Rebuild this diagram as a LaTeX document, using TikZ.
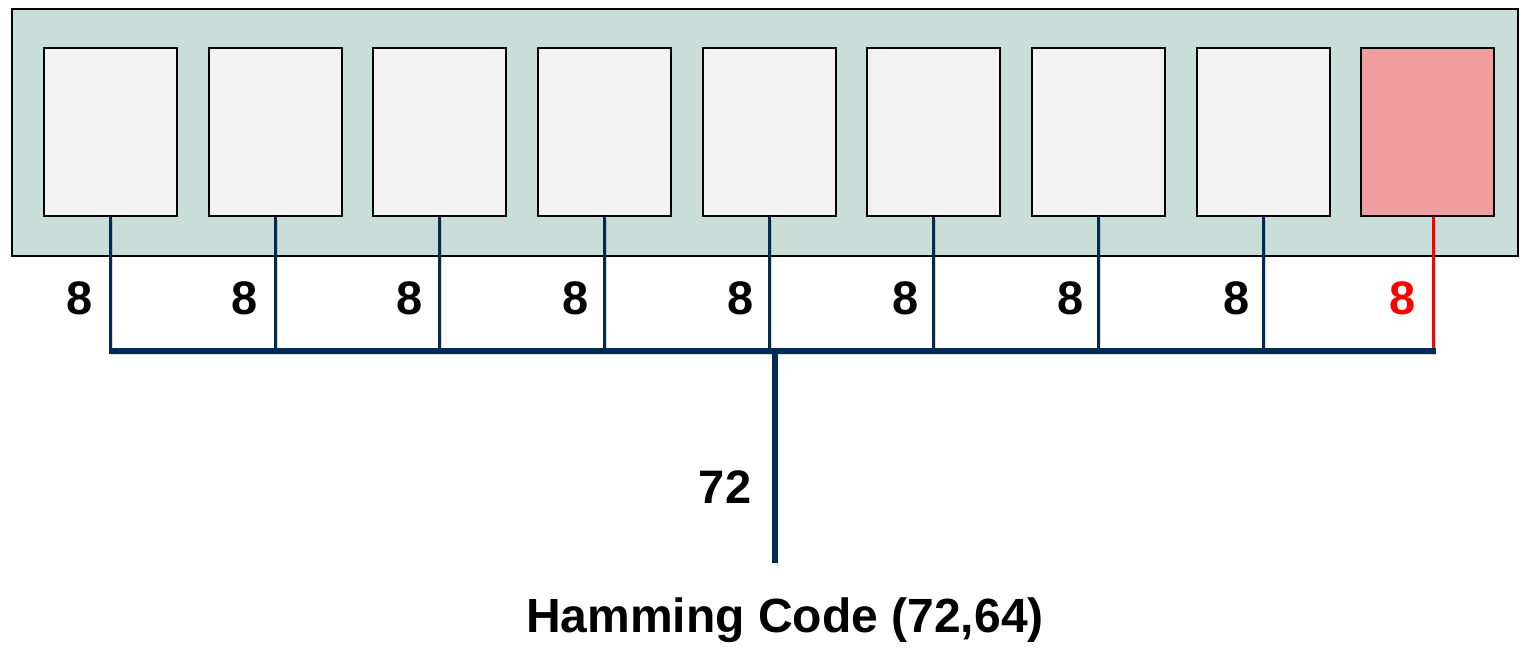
\documentclass[tikz,border=0pt]{standalone}
\usepackage{fontspec}
\setmainfont{Liberation Sans}
\definecolor{board}{HTML}{C9DDD9}
\definecolor{chipgray}{HTML}{F2F2F2}
\definecolor{chipred}{HTML}{F09E9F}
\definecolor{navy}{HTML}{002B55}
\definecolor{wirered}{HTML}{FF0000}
\begin{document}
\begin{tikzpicture}[x=1pt,y=-1pt,
  boardbox/.style={draw=black, line width=1.5pt, fill=board, minimum width=1506pt, minimum height=247pt, inner sep=0pt, anchor=north west},
  chip/.style={draw=black, line width=1.5pt, fill=chipgray, minimum width=133pt, minimum height=168pt, inner sep=0pt, anchor=north west},
  shade/.style={preaction={draw=black, opacity=0.15, transform canvas={xshift=2pt,yshift=-3pt}}},
  wire/.style={draw=navy, line width=3.5pt, shade},
  redwire/.style={draw=wirered, line width=3.5pt, shade},
  bus/.style={draw=navy, line width=5.5pt, shade},
  lbl/.style={font=\bfseries\fontsize{47}{52}\selectfont, inner sep=0pt},
]
\useasboundingbox (0,0) rectangle (1520,649);
\node[boardbox] (brd) at (11,8) {};
\foreach \i/\x in {1/43,2/208,3/372,4/537,5/702,6/866,7/1031,8/1196}
  \node[chip] (c\i) at (\x,47) {};
\node[chip, fill=chipred] (c9) at (1360,47) {};
\coordinate (busL) at (109,351);
\coordinate (busR) at (1436,351);
\coordinate (trunkTop) at (775,351);
\coordinate (trunkEnd) at (775,563);
\foreach \i in {1,...,8}
  \draw[wire] (c\i.south) -- (c\i.south |- busL);
\draw[redwire] ([xshift=6pt]c9.south) -- ([xshift=6pt]c9.south |- busL);
\draw[bus] (busL) -- (busR);
\draw[bus, line width=6pt] (trunkTop) -- (trunkEnd);
\foreach \i/\x in {1/80,2/245,3/410,4/576,5/741,6/906,7/1071,8/1237}
  \node[lbl] (n\i) at (\x,298) {8};
\node[lbl, text=wirered] (n9) at (1403,298) {8};
\node[lbl] (n72) at (725,487) {72};
\node[lbl, font=\bfseries\fontsize{48}{53}\selectfont] (title) at (785,620) {Hamming Code (72,64)};
\end{tikzpicture}
\end{document}
